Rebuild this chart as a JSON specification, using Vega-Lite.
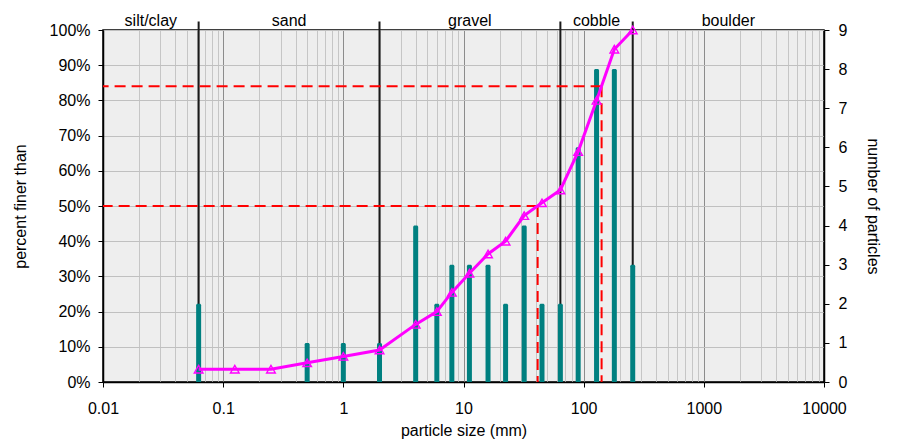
{
  "$schema": "https://vega.github.io/schema/vega-lite/v6.json",
  "width": 721,
  "height": 352,
  "autosize": {"type": "none"},
  "padding": {"left": 103, "top": 30, "right": 75, "bottom": 57},
  "background": "white",
  "config": {
    "aria": false,
    "font": "Liberation Sans",
    "view": {"fill": "#eeeeee", "stroke": "#000000", "strokeWidth": 1.5},
    "axis": {
      "domainColor": "#000000",
      "domainWidth": 1.5,
      "tickColor": "#000000",
      "tickSize": 5,
      "labelColor": "#000000",
      "labelFont": "Liberation Sans",
      "labelFontSize": 16,
      "titleFont": "Liberation Sans",
      "titleFontSize": 16,
      "titleFontWeight": "normal",
      "titleColor": "#000000"
    }
  },
  "datasets": {
    "sieve": [
      {"size": 0.0625, "count": 2, "finer": 0.03636},
      {"size": 0.125, "count": 0, "finer": 0.03636},
      {"size": 0.25, "count": 0, "finer": 0.03636},
      {"size": 0.5, "count": 1, "finer": 0.05455},
      {"size": 1, "count": 1, "finer": 0.07273},
      {"size": 2, "count": 1, "finer": 0.09091},
      {"size": 4, "count": 4, "finer": 0.16364},
      {"size": 6, "count": 2, "finer": 0.2},
      {"size": 8, "count": 3, "finer": 0.25455},
      {"size": 11.2, "count": 3, "finer": 0.30909},
      {"size": 16, "count": 3, "finer": 0.36364},
      {"size": 22.4, "count": 2, "finer": 0.4},
      {"size": 32, "count": 4, "finer": 0.47273},
      {"size": 45, "count": 2, "finer": 0.50909},
      {"size": 64, "count": 2, "finer": 0.54545},
      {"size": 90, "count": 6, "finer": 0.65455},
      {"size": 128, "count": 8, "finer": 0.8},
      {"size": 180, "count": 8, "finer": 0.94545},
      {"size": 256, "count": 3, "finer": 1.0}
    ],
    "percentiles": [
      {"name": "D50", "pct": 0.5, "size": 41.4},
      {"name": "D84", "pct": 0.84, "size": 141}
    ],
    "boundaries": [
      {"size": 0.0625},
      {"size": 2},
      {"size": 64},
      {"size": 256}
    ],
    "classes": [
      {"cls": "silt/clay", "size": 0.025},
      {"cls": "sand", "size": 0.354},
      {"cls": "gravel", "size": 11.3},
      {"cls": "cobble", "size": 128},
      {"cls": "boulder", "size": 1600}
    ]
  },
  "encoding": {
    "x": {
      "field": "size",
      "type": "quantitative",
      "scale": {"type": "log", "domain": [0.01, 10000], "nice": false, "padding": 0},
      "axis": {
        "title": "particle size (mm)",
        "titlePadding": 6,
        "values": [0.01, 0.02, 0.03, 0.04, 0.05, 0.06, 0.07, 0.08, 0.09,
                   0.1, 0.2, 0.3, 0.4, 0.5, 0.6, 0.7, 0.8, 0.9,
                   1, 2, 3, 4, 5, 6, 7, 8, 9,
                   10, 20, 30, 40, 50, 60, 70, 80, 90,
                   100, 200, 300, 400, 500, 600, 700, 800, 900,
                   1000, 2000, 3000, 4000, 5000, 6000, 7000, 8000, 9000, 10000],
        "format": "~g",
        "labelExpr": "abs(log(datum.value)/LN10 - round(log(datum.value)/LN10)) < 0.000001 ? datum.label : ''",
        "labelOverlap": false,
        "labelFlush": false,
        "labelPadding": 13,
        "grid": true,
        "gridColor": {
          "condition": {"test": "abs(log(datum.value)/LN10 - round(log(datum.value)/LN10)) < 0.000001", "value": "#8c8c8c"},
          "value": "#c6c6c6"
        },
        "gridWidth": 1,
        "tickOpacity": {
          "condition": {"test": "abs(log(datum.value)/LN10 - round(log(datum.value)/LN10)) < 0.000001", "value": 1},
          "value": 0
        }
      }
    }
  },
  "layer": [
    {
      "data": {"name": "boundaries"},
      "mark": {"type": "rule", "color": "#1a1a1a", "strokeWidth": 2},
      "encoding": {
        "y": {"datum": 0, "type": "quantitative", "scale": {"domain": [0, 1], "nice": false}, "axis": null},
        "y2": {"datum": 1.024}
      }
    },
    {
      "data": {"name": "sieve"},
      "transform": [{"filter": "datum.count > 0"}],
      "mark": {"type": "bar", "color": "#008080", "size": 5, "cornerRadiusTopLeft": 1.5, "cornerRadiusTopRight": 1.5},
      "encoding": {
        "y": {
          "field": "count",
          "type": "quantitative",
          "stack": null,
          "scale": {"domain": [0, 9], "nice": false},
          "axis": {
            "orient": "right",
            "title": "number of particles",
            "values": [0, 1, 2, 3, 4, 5, 6, 7, 8, 9],
            "grid": false,
            "labelPadding": 9,
            "titlePadding": 18
          }
        }
      }
    },
    {
      "data": {"name": "percentiles"},
      "mark": {"type": "rule", "color": "#ff0000", "strokeWidth": 2, "strokeDash": [11, 6]},
      "encoding": {
        "x2": {"datum": 0.01},
        "y": {"field": "pct", "type": "quantitative", "scale": {"domain": [0, 1], "nice": false}, "axis": null}
      }
    },
    {
      "data": {"name": "percentiles"},
      "mark": {"type": "rule", "color": "#ff0000", "strokeWidth": 2, "strokeDash": [11, 6]},
      "encoding": {
        "y": {"field": "pct", "type": "quantitative", "scale": {"domain": [0, 1], "nice": false}, "axis": null},
        "y2": {"datum": 0}
      }
    },
    {
      "data": {"name": "sieve"},
      "mark": {"type": "line", "color": "#ff00ff", "strokeWidth": 3},
      "encoding": {
        "y": {
          "field": "finer",
          "type": "quantitative",
          "scale": {"domain": [0, 1], "nice": false},
          "axis": {
            "orient": "left",
            "title": "percent finer than",
            "format": ".0%",
            "values": [0, 0.1, 0.2, 0.3, 0.4, 0.5, 0.6, 0.7, 0.8, 0.9, 1],
            "grid": true,
            "gridColor": "#c0c0c0",
            "labelPadding": 8,
            "titlePadding": 21
          }
        }
      }
    },
    {
      "data": {"name": "sieve"},
      "mark": {"type": "point", "shape": "triangle-up", "filled": false, "color": "#ff00ff", "strokeWidth": 1.4, "size": 75, "opacity": 1},
      "encoding": {
        "y": {"field": "finer", "type": "quantitative", "scale": {"domain": [0, 1], "nice": false}, "axis": null}
      }
    },
    {
      "data": {"name": "classes"},
      "mark": {"type": "text", "fontSize": 16, "color": "#000000", "baseline": "alphabetic", "dy": -4, "font": "Liberation Sans"},
      "encoding": {
        "y": {"datum": 1, "type": "quantitative", "scale": {"domain": [0, 1], "nice": false}, "axis": null},
        "text": {"field": "cls"}
      }
    }
  ],
  "resolve": {"scale": {"y": "independent"}, "axis": {"y": "independent"}}
}
